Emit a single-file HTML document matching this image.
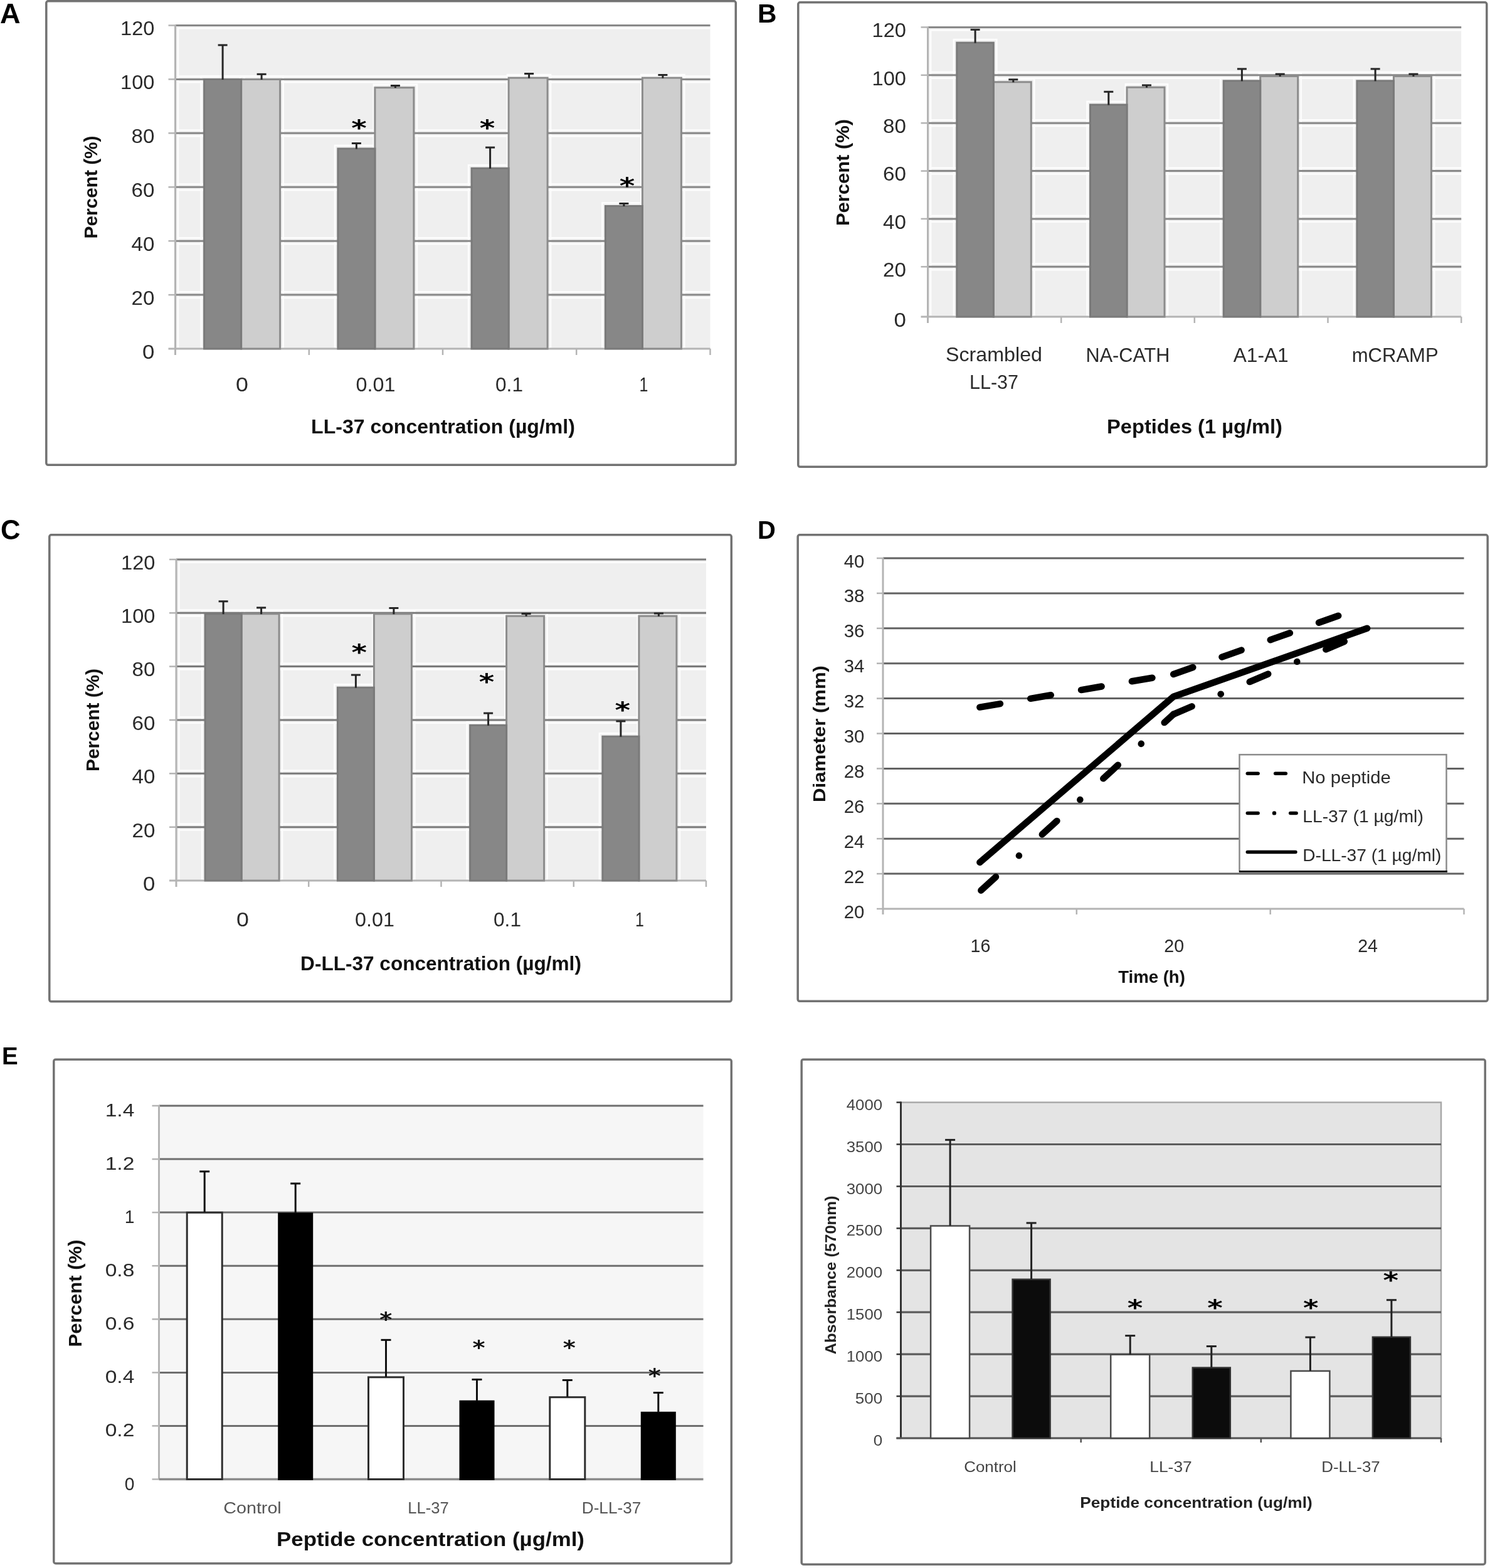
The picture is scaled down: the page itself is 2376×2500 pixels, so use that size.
<!DOCTYPE html>
<html><head><meta charset="utf-8"><title>Figure</title>
<style>
html,body{margin:0;padding:0;background:#fff;}
body{width:2376px;height:2500px;overflow:hidden;}
svg{display:block;font-family:"Liberation Sans", Arial, sans-serif;}
</style></head>
<body>
<svg width="2376" height="2500" viewBox="0 0 2376 2500">
<rect x="0" y="0" width="2376" height="2500" fill="#fff"/>
<rect x="73.8" y="1.8" width="1099.5" height="739.5" fill="none" stroke="#727272" stroke-width="3.5" rx="3"/>
<rect x="279.5" y="40.5" width="853.0" height="515.5" fill="#efefef"/>
<line x1="283.5" y1="465.3" x2="1132.5" y2="465.3" stroke="#fdfdfd" stroke-width="2.6"/>
<line x1="283.5" y1="474.9" x2="1132.5" y2="474.9" stroke="#fdfdfd" stroke-width="2.6"/>
<line x1="283.5" y1="379.4" x2="1132.5" y2="379.4" stroke="#fdfdfd" stroke-width="2.6"/>
<line x1="283.5" y1="389.0" x2="1132.5" y2="389.0" stroke="#fdfdfd" stroke-width="2.6"/>
<line x1="283.5" y1="293.5" x2="1132.5" y2="293.5" stroke="#fdfdfd" stroke-width="2.6"/>
<line x1="283.5" y1="303.1" x2="1132.5" y2="303.1" stroke="#fdfdfd" stroke-width="2.6"/>
<line x1="283.5" y1="207.5" x2="1132.5" y2="207.5" stroke="#fdfdfd" stroke-width="2.6"/>
<line x1="283.5" y1="217.1" x2="1132.5" y2="217.1" stroke="#fdfdfd" stroke-width="2.6"/>
<line x1="283.5" y1="121.6" x2="1132.5" y2="121.6" stroke="#fdfdfd" stroke-width="2.6"/>
<line x1="283.5" y1="131.2" x2="1132.5" y2="131.2" stroke="#fdfdfd" stroke-width="2.6"/>
<line x1="283.5" y1="45.3" x2="1132.5" y2="45.3" stroke="#fdfdfd" stroke-width="2.6"/>
<line x1="284.0" y1="44.5" x2="284.0" y2="554.0" stroke="#fdfdfd" stroke-width="2.6"/>
<rect x="320.6" y="121.5" width="69.0" height="433.0" fill="none" stroke="#fdfdfd" stroke-width="2.6"/>
<rect x="382.6" y="121.5" width="69.0" height="433.0" fill="none" stroke="#fdfdfd" stroke-width="2.6"/>
<rect x="533.9" y="232.0" width="69.0" height="322.5" fill="none" stroke="#fdfdfd" stroke-width="2.6"/>
<rect x="595.9" y="134.7" width="69.0" height="419.8" fill="none" stroke="#fdfdfd" stroke-width="2.6"/>
<rect x="747.1" y="263.3" width="69.0" height="291.2" fill="none" stroke="#fdfdfd" stroke-width="2.6"/>
<rect x="809.1" y="119.1" width="69.0" height="435.4" fill="none" stroke="#fdfdfd" stroke-width="2.6"/>
<rect x="960.4" y="323.5" width="69.0" height="231.0" fill="none" stroke="#fdfdfd" stroke-width="2.6"/>
<rect x="1022.4" y="119.1" width="69.0" height="435.4" fill="none" stroke="#fdfdfd" stroke-width="2.6"/>
<line x1="279.5" y1="470.1" x2="1132.5" y2="470.1" stroke="#888888" stroke-width="3"/>
<line x1="268.5" y1="470.1" x2="279.5" y2="470.1" stroke="#b4b4b4" stroke-width="2.5"/>
<line x1="279.5" y1="384.2" x2="1132.5" y2="384.2" stroke="#888888" stroke-width="3"/>
<line x1="268.5" y1="384.2" x2="279.5" y2="384.2" stroke="#b4b4b4" stroke-width="2.5"/>
<line x1="279.5" y1="298.3" x2="1132.5" y2="298.3" stroke="#888888" stroke-width="3"/>
<line x1="268.5" y1="298.3" x2="279.5" y2="298.3" stroke="#b4b4b4" stroke-width="2.5"/>
<line x1="279.5" y1="212.3" x2="1132.5" y2="212.3" stroke="#888888" stroke-width="3"/>
<line x1="268.5" y1="212.3" x2="279.5" y2="212.3" stroke="#b4b4b4" stroke-width="2.5"/>
<line x1="279.5" y1="126.4" x2="1132.5" y2="126.4" stroke="#888888" stroke-width="3"/>
<line x1="268.5" y1="126.4" x2="279.5" y2="126.4" stroke="#b4b4b4" stroke-width="2.5"/>
<line x1="279.5" y1="40.5" x2="1132.5" y2="40.5" stroke="#888888" stroke-width="3"/>
<line x1="268.5" y1="40.5" x2="279.5" y2="40.5" stroke="#b4b4b4" stroke-width="2.5"/>
<line x1="279.5" y1="39.5" x2="279.5" y2="566.0" stroke="#b4b4b4" stroke-width="3"/>
<line x1="268.5" y1="556.0" x2="1132.5" y2="556.0" stroke="#b4b4b4" stroke-width="3"/>
<line x1="492.8" y1="556.0" x2="492.8" y2="566.0" stroke="#b4b4b4" stroke-width="2.5"/>
<line x1="706.0" y1="556.0" x2="706.0" y2="566.0" stroke="#b4b4b4" stroke-width="2.5"/>
<line x1="919.2" y1="556.0" x2="919.2" y2="566.0" stroke="#b4b4b4" stroke-width="2.5"/>
<line x1="1132.5" y1="556.0" x2="1132.5" y2="566.0" stroke="#b4b4b4" stroke-width="2.5"/>
<rect x="384.6" y="126.5" width="62.0" height="429.5" fill="#cecece" stroke="#8c8c8c" stroke-width="3"/>
<rect x="325.6" y="126.5" width="59.0" height="429.5" fill="#878787" stroke="#7a7a7a" stroke-width="3"/>
<rect x="597.9" y="139.7" width="62.0" height="416.3" fill="#cecece" stroke="#8c8c8c" stroke-width="3"/>
<rect x="538.9" y="237.0" width="59.0" height="319.0" fill="#878787" stroke="#7a7a7a" stroke-width="3"/>
<rect x="811.1" y="124.1" width="62.0" height="431.9" fill="#cecece" stroke="#8c8c8c" stroke-width="3"/>
<rect x="752.1" y="268.3" width="59.0" height="287.7" fill="#878787" stroke="#7a7a7a" stroke-width="3"/>
<rect x="1024.4" y="124.1" width="62.0" height="431.9" fill="#cecece" stroke="#8c8c8c" stroke-width="3"/>
<rect x="965.4" y="328.5" width="59.0" height="227.5" fill="#878787" stroke="#7a7a7a" stroke-width="3"/>
<line x1="355.1" y1="127.0" x2="355.1" y2="71.9" stroke="#262626" stroke-width="3"/>
<line x1="347.6" y1="71.9" x2="362.6" y2="71.9" stroke="#262626" stroke-width="3"/>
<line x1="417.1" y1="127.0" x2="417.1" y2="118.3" stroke="#262626" stroke-width="3"/>
<line x1="409.6" y1="118.3" x2="424.6" y2="118.3" stroke="#262626" stroke-width="3"/>
<line x1="568.4" y1="237.5" x2="568.4" y2="228.5" stroke="#262626" stroke-width="3"/>
<line x1="560.9" y1="228.5" x2="575.9" y2="228.5" stroke="#262626" stroke-width="3"/>
<line x1="630.4" y1="140.2" x2="630.4" y2="136.5" stroke="#262626" stroke-width="3"/>
<line x1="622.9" y1="136.5" x2="637.9" y2="136.5" stroke="#262626" stroke-width="3"/>
<line x1="781.6" y1="268.8" x2="781.6" y2="235.1" stroke="#262626" stroke-width="3"/>
<line x1="774.1" y1="235.1" x2="789.1" y2="235.1" stroke="#262626" stroke-width="3"/>
<line x1="843.6" y1="124.6" x2="843.6" y2="117.5" stroke="#262626" stroke-width="3"/>
<line x1="836.1" y1="117.5" x2="851.1" y2="117.5" stroke="#262626" stroke-width="3"/>
<line x1="994.9" y1="329.0" x2="994.9" y2="324.5" stroke="#262626" stroke-width="3"/>
<line x1="987.4" y1="324.5" x2="1002.4" y2="324.5" stroke="#262626" stroke-width="3"/>
<line x1="1056.9" y1="124.6" x2="1056.9" y2="119.5" stroke="#262626" stroke-width="3"/>
<line x1="1049.4" y1="119.5" x2="1064.4" y2="119.5" stroke="#262626" stroke-width="3"/>
<text transform="translate(572.5,215.6) scale(1.3,1)" font-family="'DejaVu Sans', 'Liberation Sans', sans-serif" font-size="36.0" font-weight="bold" fill="#000" text-anchor="middle">*</text>
<text transform="translate(777.0,215.6) scale(1.3,1)" font-family="'DejaVu Sans', 'Liberation Sans', sans-serif" font-size="36.0" font-weight="bold" fill="#000" text-anchor="middle">*</text>
<text transform="translate(1000.0,308.1) scale(1.3,1)" font-family="'DejaVu Sans', 'Liberation Sans', sans-serif" font-size="36.0" font-weight="bold" fill="#000" text-anchor="middle">*</text>
<text x="236.8" y="571.8" font-size="31.4" fill="#2a2a2a" text-anchor="middle" textLength="19.4" lengthAdjust="spacingAndGlyphs">0</text>
<text x="228.0" y="485.9" font-size="31.4" fill="#2a2a2a" text-anchor="middle" textLength="36.9" lengthAdjust="spacingAndGlyphs">20</text>
<text x="228.0" y="400.0" font-size="31.4" fill="#2a2a2a" text-anchor="middle" textLength="36.9" lengthAdjust="spacingAndGlyphs">40</text>
<text x="228.0" y="314.1" font-size="31.4" fill="#2a2a2a" text-anchor="middle" textLength="36.9" lengthAdjust="spacingAndGlyphs">60</text>
<text x="228.0" y="228.1" font-size="31.4" fill="#2a2a2a" text-anchor="middle" textLength="36.9" lengthAdjust="spacingAndGlyphs">80</text>
<text x="219.2" y="142.2" font-size="31.4" fill="#2a2a2a" text-anchor="middle" textLength="54.4" lengthAdjust="spacingAndGlyphs">100</text>
<text x="219.2" y="56.3" font-size="31.4" fill="#2a2a2a" text-anchor="middle" textLength="54.4" lengthAdjust="spacingAndGlyphs">120</text>
<text x="386.0" y="623.5" font-size="32.0" fill="#2a2a2a" text-anchor="middle" textLength="19.9" lengthAdjust="spacingAndGlyphs">0</text>
<text x="599.0" y="623.5" font-size="32.0" fill="#2a2a2a" text-anchor="middle" textLength="62.9" lengthAdjust="spacingAndGlyphs">0.01</text>
<text x="812.0" y="623.5" font-size="32.0" fill="#2a2a2a" text-anchor="middle" textLength="43.9" lengthAdjust="spacingAndGlyphs">0.1</text>
<text x="1026.5" y="623.5" font-size="32.0" fill="#2a2a2a" text-anchor="middle" textLength="13.9" lengthAdjust="spacingAndGlyphs">1</text>
<text x="706.5" y="690.5" font-size="30.5" font-weight="bold" fill="#111" text-anchor="middle" textLength="420.8" lengthAdjust="spacingAndGlyphs">LL-37 concentration (µg/ml)</text>
<text transform="translate(155.0,298.5) rotate(-90)" x="0" y="0" font-size="29.0" font-weight="bold" fill="#111" text-anchor="middle" textLength="164.0" lengthAdjust="spacingAndGlyphs">Percent (%)</text>
<rect x="1272.8" y="3.8" width="1098.0" height="740.5" fill="none" stroke="#727272" stroke-width="3.5" rx="3"/>
<rect x="1479.5" y="43.4" width="850.7" height="461.6" fill="#efefef"/>
<line x1="1483.5" y1="420.5" x2="2330.2" y2="420.5" stroke="#fdfdfd" stroke-width="2.6"/>
<line x1="1483.5" y1="430.1" x2="2330.2" y2="430.1" stroke="#fdfdfd" stroke-width="2.6"/>
<line x1="1483.5" y1="344.1" x2="2330.2" y2="344.1" stroke="#fdfdfd" stroke-width="2.6"/>
<line x1="1483.5" y1="353.7" x2="2330.2" y2="353.7" stroke="#fdfdfd" stroke-width="2.6"/>
<line x1="1483.5" y1="267.8" x2="2330.2" y2="267.8" stroke="#fdfdfd" stroke-width="2.6"/>
<line x1="1483.5" y1="277.4" x2="2330.2" y2="277.4" stroke="#fdfdfd" stroke-width="2.6"/>
<line x1="1483.5" y1="191.4" x2="2330.2" y2="191.4" stroke="#fdfdfd" stroke-width="2.6"/>
<line x1="1483.5" y1="201.0" x2="2330.2" y2="201.0" stroke="#fdfdfd" stroke-width="2.6"/>
<line x1="1483.5" y1="115.0" x2="2330.2" y2="115.0" stroke="#fdfdfd" stroke-width="2.6"/>
<line x1="1483.5" y1="124.6" x2="2330.2" y2="124.6" stroke="#fdfdfd" stroke-width="2.6"/>
<line x1="1483.5" y1="48.2" x2="2330.2" y2="48.2" stroke="#fdfdfd" stroke-width="2.6"/>
<line x1="1484.0" y1="47.4" x2="1484.0" y2="503.0" stroke="#fdfdfd" stroke-width="2.6"/>
<rect x="1520.8" y="63.1" width="68.5" height="440.4" fill="none" stroke="#fdfdfd" stroke-width="2.6"/>
<rect x="1582.3" y="125.8" width="67.0" height="377.7" fill="none" stroke="#fdfdfd" stroke-width="2.6"/>
<rect x="1733.5" y="162.0" width="68.5" height="341.5" fill="none" stroke="#fdfdfd" stroke-width="2.6"/>
<rect x="1795.0" y="134.2" width="67.0" height="369.3" fill="none" stroke="#fdfdfd" stroke-width="2.6"/>
<rect x="1946.2" y="123.9" width="68.5" height="379.6" fill="none" stroke="#fdfdfd" stroke-width="2.6"/>
<rect x="2007.7" y="116.5" width="67.0" height="387.0" fill="none" stroke="#fdfdfd" stroke-width="2.6"/>
<rect x="2158.9" y="123.9" width="68.5" height="379.6" fill="none" stroke="#fdfdfd" stroke-width="2.6"/>
<rect x="2220.4" y="116.5" width="67.0" height="387.0" fill="none" stroke="#fdfdfd" stroke-width="2.6"/>
<line x1="1479.5" y1="425.3" x2="2330.2" y2="425.3" stroke="#888888" stroke-width="3"/>
<line x1="1468.5" y1="425.3" x2="1479.5" y2="425.3" stroke="#b4b4b4" stroke-width="2.5"/>
<line x1="1479.5" y1="348.9" x2="2330.2" y2="348.9" stroke="#888888" stroke-width="3"/>
<line x1="1468.5" y1="348.9" x2="1479.5" y2="348.9" stroke="#b4b4b4" stroke-width="2.5"/>
<line x1="1479.5" y1="272.6" x2="2330.2" y2="272.6" stroke="#888888" stroke-width="3"/>
<line x1="1468.5" y1="272.6" x2="1479.5" y2="272.6" stroke="#b4b4b4" stroke-width="2.5"/>
<line x1="1479.5" y1="196.2" x2="2330.2" y2="196.2" stroke="#888888" stroke-width="3"/>
<line x1="1468.5" y1="196.2" x2="1479.5" y2="196.2" stroke="#b4b4b4" stroke-width="2.5"/>
<line x1="1479.5" y1="119.8" x2="2330.2" y2="119.8" stroke="#888888" stroke-width="3"/>
<line x1="1468.5" y1="119.8" x2="1479.5" y2="119.8" stroke="#b4b4b4" stroke-width="2.5"/>
<line x1="1479.5" y1="43.4" x2="2330.2" y2="43.4" stroke="#888888" stroke-width="3"/>
<line x1="1468.5" y1="43.4" x2="1479.5" y2="43.4" stroke="#b4b4b4" stroke-width="2.5"/>
<line x1="1479.5" y1="42.4" x2="1479.5" y2="515.0" stroke="#b4b4b4" stroke-width="3"/>
<line x1="1468.5" y1="505.0" x2="2330.2" y2="505.0" stroke="#b4b4b4" stroke-width="3"/>
<line x1="1692.2" y1="505.0" x2="1692.2" y2="515.0" stroke="#b4b4b4" stroke-width="2.5"/>
<line x1="1904.8" y1="505.0" x2="1904.8" y2="515.0" stroke="#b4b4b4" stroke-width="2.5"/>
<line x1="2117.5" y1="505.0" x2="2117.5" y2="515.0" stroke="#b4b4b4" stroke-width="2.5"/>
<line x1="2330.2" y1="505.0" x2="2330.2" y2="515.0" stroke="#b4b4b4" stroke-width="2.5"/>
<rect x="1584.3" y="130.8" width="60.0" height="374.2" fill="#cecece" stroke="#8c8c8c" stroke-width="3"/>
<rect x="1525.8" y="68.1" width="58.5" height="436.9" fill="#878787" stroke="#7a7a7a" stroke-width="3"/>
<rect x="1797.0" y="139.2" width="60.0" height="365.8" fill="#cecece" stroke="#8c8c8c" stroke-width="3"/>
<rect x="1738.5" y="167.0" width="58.5" height="338.0" fill="#878787" stroke="#7a7a7a" stroke-width="3"/>
<rect x="2009.7" y="121.5" width="60.0" height="383.5" fill="#cecece" stroke="#8c8c8c" stroke-width="3"/>
<rect x="1951.2" y="128.9" width="58.5" height="376.1" fill="#878787" stroke="#7a7a7a" stroke-width="3"/>
<rect x="2222.4" y="121.5" width="60.0" height="383.5" fill="#cecece" stroke="#8c8c8c" stroke-width="3"/>
<rect x="2163.9" y="128.9" width="58.5" height="376.1" fill="#878787" stroke="#7a7a7a" stroke-width="3"/>
<line x1="1555.1" y1="68.6" x2="1555.1" y2="47.3" stroke="#262626" stroke-width="3"/>
<line x1="1547.6" y1="47.3" x2="1562.6" y2="47.3" stroke="#262626" stroke-width="3"/>
<line x1="1615.8" y1="131.3" x2="1615.8" y2="126.8" stroke="#262626" stroke-width="3"/>
<line x1="1608.3" y1="126.8" x2="1623.3" y2="126.8" stroke="#262626" stroke-width="3"/>
<line x1="1767.8" y1="167.5" x2="1767.8" y2="146.3" stroke="#262626" stroke-width="3"/>
<line x1="1760.3" y1="146.3" x2="1775.3" y2="146.3" stroke="#262626" stroke-width="3"/>
<line x1="1828.5" y1="139.7" x2="1828.5" y2="135.9" stroke="#262626" stroke-width="3"/>
<line x1="1821.0" y1="135.9" x2="1836.0" y2="135.9" stroke="#262626" stroke-width="3"/>
<line x1="1980.4" y1="129.4" x2="1980.4" y2="109.9" stroke="#262626" stroke-width="3"/>
<line x1="1972.9" y1="109.9" x2="1987.9" y2="109.9" stroke="#262626" stroke-width="3"/>
<line x1="2041.2" y1="122.0" x2="2041.2" y2="118.1" stroke="#262626" stroke-width="3"/>
<line x1="2033.7" y1="118.1" x2="2048.7" y2="118.1" stroke="#262626" stroke-width="3"/>
<line x1="2193.1" y1="129.4" x2="2193.1" y2="109.9" stroke="#262626" stroke-width="3"/>
<line x1="2185.6" y1="109.9" x2="2200.6" y2="109.9" stroke="#262626" stroke-width="3"/>
<line x1="2253.9" y1="122.0" x2="2253.9" y2="118.1" stroke="#262626" stroke-width="3"/>
<line x1="2246.4" y1="118.1" x2="2261.4" y2="118.1" stroke="#262626" stroke-width="3"/>
<text x="1435.2" y="520.8" font-size="31.4" fill="#2a2a2a" text-anchor="middle" textLength="19.4" lengthAdjust="spacingAndGlyphs">0</text>
<text x="1426.5" y="441.1" font-size="31.4" fill="#2a2a2a" text-anchor="middle" textLength="36.9" lengthAdjust="spacingAndGlyphs">20</text>
<text x="1426.5" y="364.7" font-size="31.4" fill="#2a2a2a" text-anchor="middle" textLength="36.9" lengthAdjust="spacingAndGlyphs">40</text>
<text x="1426.5" y="288.4" font-size="31.4" fill="#2a2a2a" text-anchor="middle" textLength="36.9" lengthAdjust="spacingAndGlyphs">60</text>
<text x="1426.5" y="212.0" font-size="31.4" fill="#2a2a2a" text-anchor="middle" textLength="36.9" lengthAdjust="spacingAndGlyphs">80</text>
<text x="1417.8" y="135.6" font-size="31.4" fill="#2a2a2a" text-anchor="middle" textLength="54.4" lengthAdjust="spacingAndGlyphs">100</text>
<text x="1417.8" y="59.2" font-size="31.4" fill="#2a2a2a" text-anchor="middle" textLength="54.4" lengthAdjust="spacingAndGlyphs">120</text>
<text x="1585.0" y="576.0" font-size="32.0" fill="#2a2a2a" text-anchor="middle" textLength="153.9" lengthAdjust="spacingAndGlyphs">Scrambled</text>
<text x="1585.0" y="620.0" font-size="32.0" fill="#2a2a2a" text-anchor="middle" textLength="77.9" lengthAdjust="spacingAndGlyphs">LL-37</text>
<text x="1798.5" y="576.5" font-size="31.3" fill="#2a2a2a" text-anchor="middle" textLength="133.9" lengthAdjust="spacingAndGlyphs">NA-CATH</text>
<text x="2010.7" y="576.5" font-size="31.3" fill="#2a2a2a" text-anchor="middle" textLength="87.9" lengthAdjust="spacingAndGlyphs">A1-A1</text>
<text x="2224.7" y="576.5" font-size="31.3" fill="#2a2a2a" text-anchor="middle" textLength="137.9" lengthAdjust="spacingAndGlyphs">mCRAMP</text>
<text x="1905.0" y="690.5" font-size="30.5" font-weight="bold" fill="#111" text-anchor="middle" textLength="279.8" lengthAdjust="spacingAndGlyphs">Peptides (1 µg/ml)</text>
<text transform="translate(1353.5,275.0) rotate(-90)" x="0" y="0" font-size="29.0" font-weight="bold" fill="#111" text-anchor="middle" textLength="170.0" lengthAdjust="spacingAndGlyphs">Percent (%)</text>
<rect x="78.8" y="852.8" width="1087.5" height="744.0" fill="none" stroke="#727272" stroke-width="3.5" rx="3"/>
<rect x="281.0" y="892.0" width="845.0" height="512.0" fill="#efefef"/>
<line x1="285.0" y1="1313.9" x2="1126.0" y2="1313.9" stroke="#fdfdfd" stroke-width="2.6"/>
<line x1="285.0" y1="1323.5" x2="1126.0" y2="1323.5" stroke="#fdfdfd" stroke-width="2.6"/>
<line x1="285.0" y1="1228.5" x2="1126.0" y2="1228.5" stroke="#fdfdfd" stroke-width="2.6"/>
<line x1="285.0" y1="1238.1" x2="1126.0" y2="1238.1" stroke="#fdfdfd" stroke-width="2.6"/>
<line x1="285.0" y1="1143.2" x2="1126.0" y2="1143.2" stroke="#fdfdfd" stroke-width="2.6"/>
<line x1="285.0" y1="1152.8" x2="1126.0" y2="1152.8" stroke="#fdfdfd" stroke-width="2.6"/>
<line x1="285.0" y1="1057.8" x2="1126.0" y2="1057.8" stroke="#fdfdfd" stroke-width="2.6"/>
<line x1="285.0" y1="1067.4" x2="1126.0" y2="1067.4" stroke="#fdfdfd" stroke-width="2.6"/>
<line x1="285.0" y1="972.5" x2="1126.0" y2="972.5" stroke="#fdfdfd" stroke-width="2.6"/>
<line x1="285.0" y1="982.1" x2="1126.0" y2="982.1" stroke="#fdfdfd" stroke-width="2.6"/>
<line x1="285.0" y1="896.8" x2="1126.0" y2="896.8" stroke="#fdfdfd" stroke-width="2.6"/>
<line x1="285.5" y1="896.0" x2="285.5" y2="1402.0" stroke="#fdfdfd" stroke-width="2.6"/>
<rect x="322.1" y="973.7" width="68.0" height="428.8" fill="none" stroke="#fdfdfd" stroke-width="2.6"/>
<rect x="383.1" y="973.7" width="67.0" height="428.8" fill="none" stroke="#fdfdfd" stroke-width="2.6"/>
<rect x="533.4" y="1091.2" width="68.0" height="311.3" fill="none" stroke="#fdfdfd" stroke-width="2.6"/>
<rect x="594.4" y="973.8" width="67.0" height="428.7" fill="none" stroke="#fdfdfd" stroke-width="2.6"/>
<rect x="744.6" y="1151.3" width="68.0" height="251.2" fill="none" stroke="#fdfdfd" stroke-width="2.6"/>
<rect x="805.6" y="977.2" width="67.0" height="425.3" fill="none" stroke="#fdfdfd" stroke-width="2.6"/>
<rect x="955.9" y="1169.2" width="68.0" height="233.3" fill="none" stroke="#fdfdfd" stroke-width="2.6"/>
<rect x="1016.9" y="977.2" width="67.0" height="425.3" fill="none" stroke="#fdfdfd" stroke-width="2.6"/>
<line x1="281.0" y1="1318.7" x2="1126.0" y2="1318.7" stroke="#7a7a7a" stroke-width="3"/>
<line x1="270.0" y1="1318.7" x2="281.0" y2="1318.7" stroke="#b4b4b4" stroke-width="2.5"/>
<line x1="281.0" y1="1233.3" x2="1126.0" y2="1233.3" stroke="#7a7a7a" stroke-width="3"/>
<line x1="270.0" y1="1233.3" x2="281.0" y2="1233.3" stroke="#b4b4b4" stroke-width="2.5"/>
<line x1="281.0" y1="1148.0" x2="1126.0" y2="1148.0" stroke="#7a7a7a" stroke-width="3"/>
<line x1="270.0" y1="1148.0" x2="281.0" y2="1148.0" stroke="#b4b4b4" stroke-width="2.5"/>
<line x1="281.0" y1="1062.6" x2="1126.0" y2="1062.6" stroke="#7a7a7a" stroke-width="3"/>
<line x1="270.0" y1="1062.6" x2="281.0" y2="1062.6" stroke="#b4b4b4" stroke-width="2.5"/>
<line x1="281.0" y1="977.3" x2="1126.0" y2="977.3" stroke="#7a7a7a" stroke-width="3"/>
<line x1="270.0" y1="977.3" x2="281.0" y2="977.3" stroke="#b4b4b4" stroke-width="2.5"/>
<line x1="281.0" y1="892.0" x2="1126.0" y2="892.0" stroke="#7a7a7a" stroke-width="3"/>
<line x1="270.0" y1="892.0" x2="281.0" y2="892.0" stroke="#b4b4b4" stroke-width="2.5"/>
<line x1="281.0" y1="891.0" x2="281.0" y2="1414.0" stroke="#b4b4b4" stroke-width="3"/>
<line x1="270.0" y1="1404.0" x2="1126.0" y2="1404.0" stroke="#b4b4b4" stroke-width="3"/>
<line x1="492.2" y1="1404.0" x2="492.2" y2="1414.0" stroke="#b4b4b4" stroke-width="2.5"/>
<line x1="703.5" y1="1404.0" x2="703.5" y2="1414.0" stroke="#b4b4b4" stroke-width="2.5"/>
<line x1="914.8" y1="1404.0" x2="914.8" y2="1414.0" stroke="#b4b4b4" stroke-width="2.5"/>
<line x1="1126.0" y1="1404.0" x2="1126.0" y2="1414.0" stroke="#b4b4b4" stroke-width="2.5"/>
<rect x="385.1" y="978.7" width="60.0" height="425.3" fill="#cecece" stroke="#8c8c8c" stroke-width="3"/>
<rect x="327.1" y="978.7" width="58.0" height="425.3" fill="#878787" stroke="#7a7a7a" stroke-width="3"/>
<rect x="596.4" y="978.8" width="60.0" height="425.2" fill="#cecece" stroke="#8c8c8c" stroke-width="3"/>
<rect x="538.4" y="1096.2" width="58.0" height="307.8" fill="#878787" stroke="#7a7a7a" stroke-width="3"/>
<rect x="807.6" y="982.2" width="60.0" height="421.8" fill="#cecece" stroke="#8c8c8c" stroke-width="3"/>
<rect x="749.6" y="1156.3" width="58.0" height="247.7" fill="#878787" stroke="#7a7a7a" stroke-width="3"/>
<rect x="1018.9" y="982.2" width="60.0" height="421.8" fill="#cecece" stroke="#8c8c8c" stroke-width="3"/>
<rect x="960.9" y="1174.2" width="58.0" height="229.8" fill="#878787" stroke="#7a7a7a" stroke-width="3"/>
<line x1="356.1" y1="979.2" x2="356.1" y2="958.8" stroke="#262626" stroke-width="3"/>
<line x1="348.6" y1="958.8" x2="363.6" y2="958.8" stroke="#262626" stroke-width="3"/>
<line x1="416.6" y1="979.2" x2="416.6" y2="968.9" stroke="#262626" stroke-width="3"/>
<line x1="409.1" y1="968.9" x2="424.1" y2="968.9" stroke="#262626" stroke-width="3"/>
<line x1="567.4" y1="1096.7" x2="567.4" y2="1076.1" stroke="#262626" stroke-width="3"/>
<line x1="559.9" y1="1076.1" x2="574.9" y2="1076.1" stroke="#262626" stroke-width="3"/>
<line x1="627.9" y1="979.3" x2="627.9" y2="969.5" stroke="#262626" stroke-width="3"/>
<line x1="620.4" y1="969.5" x2="635.4" y2="969.5" stroke="#262626" stroke-width="3"/>
<line x1="778.6" y1="1156.8" x2="778.6" y2="1137.1" stroke="#262626" stroke-width="3"/>
<line x1="771.1" y1="1137.1" x2="786.1" y2="1137.1" stroke="#262626" stroke-width="3"/>
<line x1="839.1" y1="982.7" x2="839.1" y2="978.5" stroke="#262626" stroke-width="3"/>
<line x1="831.6" y1="978.5" x2="846.6" y2="978.5" stroke="#262626" stroke-width="3"/>
<line x1="989.9" y1="1174.7" x2="989.9" y2="1149.9" stroke="#262626" stroke-width="3"/>
<line x1="982.4" y1="1149.9" x2="997.4" y2="1149.9" stroke="#262626" stroke-width="3"/>
<line x1="1050.4" y1="982.7" x2="1050.4" y2="978.0" stroke="#262626" stroke-width="3"/>
<line x1="1042.9" y1="978.0" x2="1057.9" y2="978.0" stroke="#262626" stroke-width="3"/>
<text transform="translate(572.7,1052.1) scale(1.3,1)" font-family="'DejaVu Sans', 'Liberation Sans', sans-serif" font-size="36.0" font-weight="bold" fill="#000" text-anchor="middle">*</text>
<text transform="translate(776.0,1099.1) scale(1.3,1)" font-family="'DejaVu Sans', 'Liberation Sans', sans-serif" font-size="36.0" font-weight="bold" fill="#000" text-anchor="middle">*</text>
<text transform="translate(992.7,1143.8) scale(1.3,1)" font-family="'DejaVu Sans', 'Liberation Sans', sans-serif" font-size="36.0" font-weight="bold" fill="#000" text-anchor="middle">*</text>
<text x="237.8" y="1419.8" font-size="31.4" fill="#2a2a2a" text-anchor="middle" textLength="19.4" lengthAdjust="spacingAndGlyphs">0</text>
<text x="229.0" y="1334.5" font-size="31.4" fill="#2a2a2a" text-anchor="middle" textLength="36.9" lengthAdjust="spacingAndGlyphs">20</text>
<text x="229.0" y="1249.1" font-size="31.4" fill="#2a2a2a" text-anchor="middle" textLength="36.9" lengthAdjust="spacingAndGlyphs">40</text>
<text x="229.0" y="1163.8" font-size="31.4" fill="#2a2a2a" text-anchor="middle" textLength="36.9" lengthAdjust="spacingAndGlyphs">60</text>
<text x="229.0" y="1078.4" font-size="31.4" fill="#2a2a2a" text-anchor="middle" textLength="36.9" lengthAdjust="spacingAndGlyphs">80</text>
<text x="220.2" y="993.1" font-size="31.4" fill="#2a2a2a" text-anchor="middle" textLength="54.4" lengthAdjust="spacingAndGlyphs">100</text>
<text x="220.2" y="907.8" font-size="31.4" fill="#2a2a2a" text-anchor="middle" textLength="54.4" lengthAdjust="spacingAndGlyphs">120</text>
<text x="387.0" y="1476.5" font-size="32.0" fill="#2a2a2a" text-anchor="middle" textLength="19.9" lengthAdjust="spacingAndGlyphs">0</text>
<text x="597.5" y="1476.5" font-size="32.0" fill="#2a2a2a" text-anchor="middle" textLength="62.9" lengthAdjust="spacingAndGlyphs">0.01</text>
<text x="809.0" y="1476.5" font-size="32.0" fill="#2a2a2a" text-anchor="middle" textLength="43.9" lengthAdjust="spacingAndGlyphs">0.1</text>
<text x="1020.0" y="1476.5" font-size="32.0" fill="#2a2a2a" text-anchor="middle" textLength="13.9" lengthAdjust="spacingAndGlyphs">1</text>
<text x="703.0" y="1546.5" font-size="30.5" font-weight="bold" fill="#111" text-anchor="middle" textLength="447.8" lengthAdjust="spacingAndGlyphs">D-LL-37 concentration (µg/ml)</text>
<text transform="translate(157.5,1148.0) rotate(-90)" x="0" y="0" font-size="29.0" font-weight="bold" fill="#111" text-anchor="middle" textLength="164.0" lengthAdjust="spacingAndGlyphs">Percent (%)</text>
<rect x="1272.2" y="852.8" width="1100.0" height="743.5" fill="none" stroke="#727272" stroke-width="3.5" rx="3"/>
<line x1="1408.0" y1="1393.1" x2="2334.5" y2="1393.1" stroke="#626262" stroke-width="3"/>
<line x1="1408.0" y1="1337.2" x2="2334.5" y2="1337.2" stroke="#626262" stroke-width="3"/>
<line x1="1408.0" y1="1281.3" x2="2334.5" y2="1281.3" stroke="#626262" stroke-width="3"/>
<line x1="1408.0" y1="1225.4" x2="2334.5" y2="1225.4" stroke="#626262" stroke-width="3"/>
<line x1="1408.0" y1="1169.5" x2="2334.5" y2="1169.5" stroke="#626262" stroke-width="3"/>
<line x1="1408.0" y1="1113.6" x2="2334.5" y2="1113.6" stroke="#626262" stroke-width="3"/>
<line x1="1408.0" y1="1057.7" x2="2334.5" y2="1057.7" stroke="#626262" stroke-width="3"/>
<line x1="1408.0" y1="1001.8" x2="2334.5" y2="1001.8" stroke="#626262" stroke-width="3"/>
<line x1="1408.0" y1="945.9" x2="2334.5" y2="945.9" stroke="#626262" stroke-width="3"/>
<line x1="1408.0" y1="890.0" x2="2334.5" y2="890.0" stroke="#626262" stroke-width="3"/>
<line x1="1398.0" y1="1449.0" x2="1408.0" y2="1449.0" stroke="#b4b4b4" stroke-width="2.5"/>
<line x1="1398.0" y1="1393.1" x2="1408.0" y2="1393.1" stroke="#b4b4b4" stroke-width="2.5"/>
<line x1="1398.0" y1="1337.2" x2="1408.0" y2="1337.2" stroke="#b4b4b4" stroke-width="2.5"/>
<line x1="1398.0" y1="1281.3" x2="1408.0" y2="1281.3" stroke="#b4b4b4" stroke-width="2.5"/>
<line x1="1398.0" y1="1225.4" x2="1408.0" y2="1225.4" stroke="#b4b4b4" stroke-width="2.5"/>
<line x1="1398.0" y1="1169.5" x2="1408.0" y2="1169.5" stroke="#b4b4b4" stroke-width="2.5"/>
<line x1="1398.0" y1="1113.6" x2="1408.0" y2="1113.6" stroke="#b4b4b4" stroke-width="2.5"/>
<line x1="1398.0" y1="1057.7" x2="1408.0" y2="1057.7" stroke="#b4b4b4" stroke-width="2.5"/>
<line x1="1398.0" y1="1001.8" x2="1408.0" y2="1001.8" stroke="#b4b4b4" stroke-width="2.5"/>
<line x1="1398.0" y1="945.9" x2="1408.0" y2="945.9" stroke="#b4b4b4" stroke-width="2.5"/>
<line x1="1398.0" y1="890.0" x2="1408.0" y2="890.0" stroke="#b4b4b4" stroke-width="2.5"/>
<line x1="1408.0" y1="889.0" x2="1408.0" y2="1458.0" stroke="#b4b4b4" stroke-width="3"/>
<line x1="1408.0" y1="1449.0" x2="2334.5" y2="1449.0" stroke="#b4b4b4" stroke-width="3"/>
<line x1="1716.8" y1="1449.0" x2="1716.8" y2="1458.0" stroke="#b4b4b4" stroke-width="2.5"/>
<line x1="2025.7" y1="1449.0" x2="2025.7" y2="1458.0" stroke="#b4b4b4" stroke-width="2.5"/>
<line x1="2334.5" y1="1449.0" x2="2334.5" y2="1458.0" stroke="#b4b4b4" stroke-width="2.5"/>
<line x1="1562.4" y1="1127.6" x2="1871.2" y2="1075.0" fill="none" stroke="#000" stroke-width="10.5" stroke-linecap="round" stroke-dasharray="33 49"/>
<line x1="1871.2" y1="1075.0" x2="2180.1" y2="965.5" fill="none" stroke="#000" stroke-width="10.5" stroke-linecap="round" stroke-dasharray="33 49"/>
<line x1="1564.4" y1="1419.7" x2="1871.2" y2="1138.8" fill="none" stroke="#000" stroke-width="10.5" stroke-linecap="round" stroke-dasharray="32 50 0.1 50"/>
<line x1="1871.2" y1="1138.8" x2="2180.1" y2="1007.4" fill="none" stroke="#000" stroke-width="10.5" stroke-linecap="round" stroke-dasharray="32 50 0.1 50"/>
<polyline points="1562.4,1374.9 1871.2,1110.8 2180.1,1001.8" fill="none" stroke="#000" stroke-width="10.5" stroke-linejoin="round" stroke-linecap="round"/>
<rect x="1976.5" y="1203.2" width="330.0" height="186.0" fill="#fff" stroke="#8c8c8c" stroke-width="2.5"/>
<line x1="1976.0" y1="1389.5" x2="2308.0" y2="1389.5" stroke="#111" stroke-width="3"/>
<line x1="1989.3" y1="1233.2" x2="2006.1" y2="1233.2" stroke="#000" stroke-width="5.5" stroke-linecap="round"/>
<line x1="2033.7" y1="1233.2" x2="2050.3" y2="1233.2" stroke="#000" stroke-width="5.5" stroke-linecap="round"/>
<line x1="1989.3" y1="1296.4" x2="2006.1" y2="1296.4" stroke="#000" stroke-width="5.5" stroke-linecap="round"/>
<circle cx="2032" cy="1296.4" r="3.2" fill="#000"/>
<line x1="2057.7" y1="1296.4" x2="2067.1" y2="1296.4" stroke="#000" stroke-width="5.5" stroke-linecap="round"/>
<line x1="1989.3" y1="1358.5" x2="2065.9" y2="1358.5" stroke="#000" stroke-width="5.5" stroke-linecap="round"/>
<text x="2147.0" y="1248.5" font-size="28.3" fill="#2a2a2a" text-anchor="middle" textLength="141.7" lengthAdjust="spacingAndGlyphs">No peptide</text>
<text x="2173.5" y="1310.5" font-size="28.3" fill="#2a2a2a" text-anchor="middle" textLength="192.7" lengthAdjust="spacingAndGlyphs">LL-37 (1 µg/ml)</text>
<text x="2187.8" y="1372.5" font-size="28.3" fill="#2a2a2a" text-anchor="middle" textLength="221.2" lengthAdjust="spacingAndGlyphs">D-LL-37 (1 µg/ml)</text>
<text x="1362.0" y="1463.5" font-size="29.1" fill="#2a2a2a" text-anchor="middle" textLength="32.7" lengthAdjust="spacingAndGlyphs">20</text>
<text x="1362.0" y="1407.6" font-size="29.1" fill="#2a2a2a" text-anchor="middle" textLength="32.7" lengthAdjust="spacingAndGlyphs">22</text>
<text x="1362.0" y="1351.7" font-size="29.1" fill="#2a2a2a" text-anchor="middle" textLength="32.7" lengthAdjust="spacingAndGlyphs">24</text>
<text x="1362.0" y="1295.8" font-size="29.1" fill="#2a2a2a" text-anchor="middle" textLength="32.7" lengthAdjust="spacingAndGlyphs">26</text>
<text x="1362.0" y="1239.9" font-size="29.1" fill="#2a2a2a" text-anchor="middle" textLength="32.7" lengthAdjust="spacingAndGlyphs">28</text>
<text x="1362.0" y="1184.0" font-size="29.1" fill="#2a2a2a" text-anchor="middle" textLength="32.7" lengthAdjust="spacingAndGlyphs">30</text>
<text x="1362.0" y="1128.1" font-size="29.1" fill="#2a2a2a" text-anchor="middle" textLength="32.7" lengthAdjust="spacingAndGlyphs">32</text>
<text x="1362.0" y="1072.2" font-size="29.1" fill="#2a2a2a" text-anchor="middle" textLength="32.7" lengthAdjust="spacingAndGlyphs">34</text>
<text x="1362.0" y="1016.3" font-size="29.1" fill="#2a2a2a" text-anchor="middle" textLength="32.7" lengthAdjust="spacingAndGlyphs">36</text>
<text x="1362.0" y="960.4" font-size="29.1" fill="#2a2a2a" text-anchor="middle" textLength="32.7" lengthAdjust="spacingAndGlyphs">38</text>
<text x="1362.0" y="904.5" font-size="29.1" fill="#2a2a2a" text-anchor="middle" textLength="32.7" lengthAdjust="spacingAndGlyphs">40</text>
<text x="1563.4" y="1517.5" font-size="29.8" fill="#2a2a2a" text-anchor="middle" textLength="31.8" lengthAdjust="spacingAndGlyphs">16</text>
<text x="1872.2" y="1517.5" font-size="29.8" fill="#2a2a2a" text-anchor="middle" textLength="31.8" lengthAdjust="spacingAndGlyphs">20</text>
<text x="2181.1" y="1517.5" font-size="29.8" fill="#2a2a2a" text-anchor="middle" textLength="31.8" lengthAdjust="spacingAndGlyphs">24</text>
<text x="1836.5" y="1566.5" font-size="27.6" font-weight="bold" fill="#111" text-anchor="middle" textLength="106.7" lengthAdjust="spacingAndGlyphs">Time (h)</text>
<text transform="translate(1315.8,1170.0) rotate(-90)" x="0" y="0" font-size="27.0" font-weight="bold" fill="#111" text-anchor="middle" textLength="218.0" lengthAdjust="spacingAndGlyphs">Diameter (mm)</text>
<text x="1208.0" y="859.0" font-size="40.0" font-weight="bold" fill="#000">D</text>
<rect x="85.8" y="1689.2" width="1080.5" height="803.5" fill="none" stroke="#727272" stroke-width="3.5" rx="3"/>
<rect x="253.5" y="1763.0" width="868.0" height="595.5" fill="#f6f6f6"/>
<line x1="253.5" y1="2273.4" x2="1121.5" y2="2273.4" stroke="#6e6e6e" stroke-width="3"/>
<line x1="253.5" y1="2188.4" x2="1121.5" y2="2188.4" stroke="#6e6e6e" stroke-width="3"/>
<line x1="253.5" y1="2103.3" x2="1121.5" y2="2103.3" stroke="#6e6e6e" stroke-width="3"/>
<line x1="253.5" y1="2018.2" x2="1121.5" y2="2018.2" stroke="#6e6e6e" stroke-width="3"/>
<line x1="253.5" y1="1933.1" x2="1121.5" y2="1933.1" stroke="#6e6e6e" stroke-width="3"/>
<line x1="253.5" y1="1848.1" x2="1121.5" y2="1848.1" stroke="#6e6e6e" stroke-width="3"/>
<line x1="253.5" y1="1763.0" x2="1121.5" y2="1763.0" stroke="#6e6e6e" stroke-width="3"/>
<line x1="242.5" y1="2358.5" x2="253.5" y2="2358.5" stroke="#b4b4b4" stroke-width="2.5"/>
<line x1="242.5" y1="2273.4" x2="253.5" y2="2273.4" stroke="#b4b4b4" stroke-width="2.5"/>
<line x1="242.5" y1="2188.4" x2="253.5" y2="2188.4" stroke="#b4b4b4" stroke-width="2.5"/>
<line x1="242.5" y1="2103.3" x2="253.5" y2="2103.3" stroke="#b4b4b4" stroke-width="2.5"/>
<line x1="242.5" y1="2018.2" x2="253.5" y2="2018.2" stroke="#b4b4b4" stroke-width="2.5"/>
<line x1="242.5" y1="1933.1" x2="253.5" y2="1933.1" stroke="#b4b4b4" stroke-width="2.5"/>
<line x1="242.5" y1="1848.1" x2="253.5" y2="1848.1" stroke="#b4b4b4" stroke-width="2.5"/>
<line x1="242.5" y1="1763.0" x2="253.5" y2="1763.0" stroke="#b4b4b4" stroke-width="2.5"/>
<line x1="253.5" y1="1762.0" x2="253.5" y2="2358.5" stroke="#b4b4b4" stroke-width="3"/>
<line x1="253.5" y1="2358.5" x2="1121.5" y2="2358.5" stroke="#8a8a8a" stroke-width="3.5"/>
<rect x="298.2" y="1933.3" width="56.0" height="425.2" fill="#fff" stroke="#2e2e2e" stroke-width="3"/>
<rect x="444.7" y="1934.9" width="53.0" height="423.6" fill="#000" stroke="#000" stroke-width="3"/>
<line x1="326.2" y1="1932.8" x2="326.2" y2="1867.8" stroke="#111" stroke-width="3"/>
<line x1="318.2" y1="1867.8" x2="334.2" y2="1867.8" stroke="#111" stroke-width="3"/>
<line x1="471.2" y1="1934.4" x2="471.2" y2="1887.0" stroke="#111" stroke-width="3"/>
<line x1="463.2" y1="1887.0" x2="479.2" y2="1887.0" stroke="#111" stroke-width="3"/>
<rect x="587.5" y="2195.8" width="56.0" height="162.7" fill="#fff" stroke="#2e2e2e" stroke-width="3"/>
<rect x="734.0" y="2234.2" width="53.0" height="124.3" fill="#000" stroke="#000" stroke-width="3"/>
<line x1="615.5" y1="2195.3" x2="615.5" y2="2136.4" stroke="#111" stroke-width="3"/>
<line x1="607.5" y1="2136.4" x2="623.5" y2="2136.4" stroke="#111" stroke-width="3"/>
<line x1="760.5" y1="2233.7" x2="760.5" y2="2199.5" stroke="#111" stroke-width="3"/>
<line x1="752.5" y1="2199.5" x2="768.5" y2="2199.5" stroke="#111" stroke-width="3"/>
<rect x="876.8" y="2227.7" width="56.0" height="130.8" fill="#fff" stroke="#2e2e2e" stroke-width="3"/>
<rect x="1023.3" y="2252.3" width="53.0" height="106.2" fill="#000" stroke="#000" stroke-width="3"/>
<line x1="904.8" y1="2227.2" x2="904.8" y2="2200.5" stroke="#111" stroke-width="3"/>
<line x1="896.8" y1="2200.5" x2="912.8" y2="2200.5" stroke="#111" stroke-width="3"/>
<line x1="1049.8" y1="2251.8" x2="1049.8" y2="2220.5" stroke="#111" stroke-width="3"/>
<line x1="1041.8" y1="2220.5" x2="1057.8" y2="2220.5" stroke="#111" stroke-width="3"/>
<text transform="translate(615.3,2113.6) scale(1.2,1)" font-family="'DejaVu Sans', 'Liberation Sans', sans-serif" font-size="32.0" font-weight="bold" fill="#111" text-anchor="middle">*</text>
<text transform="translate(763.5,2158.9) scale(1.2,1)" font-family="'DejaVu Sans', 'Liberation Sans', sans-serif" font-size="32.0" font-weight="bold" fill="#111" text-anchor="middle">*</text>
<text transform="translate(907.7,2158.9) scale(1.2,1)" font-family="'DejaVu Sans', 'Liberation Sans', sans-serif" font-size="32.0" font-weight="bold" fill="#111" text-anchor="middle">*</text>
<text transform="translate(1043.7,2204.1) scale(1.2,1)" font-family="'DejaVu Sans', 'Liberation Sans', sans-serif" font-size="32.0" font-weight="bold" fill="#111" text-anchor="middle">*</text>
<text x="206.5" y="2375.5" font-size="29.1" fill="#2a2a2a" text-anchor="middle" textLength="15.7" lengthAdjust="spacingAndGlyphs">0</text>
<text x="191.0" y="2290.4" font-size="29.1" fill="#2a2a2a" text-anchor="middle" textLength="46.7" lengthAdjust="spacingAndGlyphs">0.2</text>
<text x="191.0" y="2205.4" font-size="29.1" fill="#2a2a2a" text-anchor="middle" textLength="46.7" lengthAdjust="spacingAndGlyphs">0.4</text>
<text x="191.0" y="2120.3" font-size="29.1" fill="#2a2a2a" text-anchor="middle" textLength="46.7" lengthAdjust="spacingAndGlyphs">0.6</text>
<text x="191.0" y="2035.2" font-size="29.1" fill="#2a2a2a" text-anchor="middle" textLength="46.7" lengthAdjust="spacingAndGlyphs">0.8</text>
<text x="206.5" y="1950.1" font-size="29.1" fill="#2a2a2a" text-anchor="middle" textLength="15.7" lengthAdjust="spacingAndGlyphs">1</text>
<text x="191.0" y="1865.1" font-size="29.1" fill="#2a2a2a" text-anchor="middle" textLength="46.7" lengthAdjust="spacingAndGlyphs">1.2</text>
<text x="191.0" y="1780.0" font-size="29.1" fill="#2a2a2a" text-anchor="middle" textLength="46.7" lengthAdjust="spacingAndGlyphs">1.4</text>
<text x="402.5" y="2412.5" font-size="25.4" fill="#555" text-anchor="middle" textLength="92.5" lengthAdjust="spacingAndGlyphs">Control</text>
<text x="683.0" y="2412.5" font-size="25.4" fill="#555" text-anchor="middle" textLength="65.5" lengthAdjust="spacingAndGlyphs">LL-37</text>
<text x="975.0" y="2412.5" font-size="25.4" fill="#555" text-anchor="middle" textLength="94.5" lengthAdjust="spacingAndGlyphs">D-LL-37</text>
<text x="686.5" y="2464.5" font-size="31.3" font-weight="bold" fill="#111" text-anchor="middle" textLength="490.9" lengthAdjust="spacingAndGlyphs">Peptide concentration (µg/ml)</text>
<text transform="translate(130.0,2062.0) rotate(-90)" x="0" y="0" font-size="29.0" font-weight="bold" fill="#111" text-anchor="middle" textLength="171.0" lengthAdjust="spacingAndGlyphs">Percent (%)</text>
<text x="3.0" y="1697.0" font-size="38.5" font-weight="bold" fill="#000">E</text>
<rect x="1278.2" y="1689.2" width="1090.0" height="805.0" fill="none" stroke="#727272" stroke-width="3.5" rx="3"/>
<rect x="1436.5" y="1757.6" width="861.5" height="535.4" fill="#e4e4e4" stroke="#a8a8a8" stroke-width="2.5"/>
<line x1="1436.5" y1="2226.1" x2="2298.0" y2="2226.1" stroke="#5c5c5c" stroke-width="3.2"/>
<line x1="1436.5" y1="2159.2" x2="2298.0" y2="2159.2" stroke="#5c5c5c" stroke-width="3.2"/>
<line x1="1436.5" y1="2092.2" x2="2298.0" y2="2092.2" stroke="#5c5c5c" stroke-width="3.2"/>
<line x1="1436.5" y1="2025.3" x2="2298.0" y2="2025.3" stroke="#5c5c5c" stroke-width="3.2"/>
<line x1="1436.5" y1="1958.4" x2="2298.0" y2="1958.4" stroke="#5c5c5c" stroke-width="3.2"/>
<line x1="1436.5" y1="1891.5" x2="2298.0" y2="1891.5" stroke="#5c5c5c" stroke-width="3.2"/>
<line x1="1436.5" y1="1824.5" x2="2298.0" y2="1824.5" stroke="#5c5c5c" stroke-width="3.2"/>
<line x1="1429.5" y1="2293.0" x2="1436.5" y2="2293.0" stroke="#333" stroke-width="2.5"/>
<line x1="1429.5" y1="2226.1" x2="1436.5" y2="2226.1" stroke="#333" stroke-width="2.5"/>
<line x1="1429.5" y1="2159.2" x2="1436.5" y2="2159.2" stroke="#333" stroke-width="2.5"/>
<line x1="1429.5" y1="2092.2" x2="1436.5" y2="2092.2" stroke="#333" stroke-width="2.5"/>
<line x1="1429.5" y1="2025.3" x2="1436.5" y2="2025.3" stroke="#333" stroke-width="2.5"/>
<line x1="1429.5" y1="1958.4" x2="1436.5" y2="1958.4" stroke="#333" stroke-width="2.5"/>
<line x1="1429.5" y1="1891.5" x2="1436.5" y2="1891.5" stroke="#333" stroke-width="2.5"/>
<line x1="1429.5" y1="1824.5" x2="1436.5" y2="1824.5" stroke="#333" stroke-width="2.5"/>
<line x1="1429.5" y1="1757.6" x2="1436.5" y2="1757.6" stroke="#333" stroke-width="2.5"/>
<line x1="1436.5" y1="1756.6" x2="1436.5" y2="2294.0" stroke="#333" stroke-width="3"/>
<line x1="1429.5" y1="2293.0" x2="2298.0" y2="2293.0" stroke="#555" stroke-width="3"/>
<line x1="1723.7" y1="2293.0" x2="1723.7" y2="2300.0" stroke="#555" stroke-width="2.5"/>
<line x1="2010.8" y1="2293.0" x2="2010.8" y2="2300.0" stroke="#555" stroke-width="2.5"/>
<line x1="2298.0" y1="2293.0" x2="2298.0" y2="2300.0" stroke="#555" stroke-width="2.5"/>
<rect x="1484.1" y="1954.5" width="62.0" height="338.5" fill="#fff" stroke="#4a4a4a" stroke-width="2.5"/>
<rect x="1614.6" y="2039.8" width="60.0" height="253.2" fill="#0c0c0c" stroke="#333" stroke-width="2.5"/>
<line x1="1515.1" y1="1954.2" x2="1515.1" y2="1817.4" stroke="#222" stroke-width="3"/>
<line x1="1507.1" y1="1817.4" x2="1523.1" y2="1817.4" stroke="#222" stroke-width="3"/>
<line x1="1644.6" y1="2039.5" x2="1644.6" y2="1949.9" stroke="#222" stroke-width="3"/>
<line x1="1636.6" y1="1949.9" x2="1652.6" y2="1949.9" stroke="#222" stroke-width="3"/>
<rect x="1771.2" y="2159.7" width="62.0" height="133.3" fill="#fff" stroke="#4a4a4a" stroke-width="2.5"/>
<rect x="1901.8" y="2180.6" width="60.0" height="112.4" fill="#0c0c0c" stroke="#333" stroke-width="2.5"/>
<line x1="1802.2" y1="2159.4" x2="1802.2" y2="2129.6" stroke="#222" stroke-width="3"/>
<line x1="1794.2" y1="2129.6" x2="1810.2" y2="2129.6" stroke="#222" stroke-width="3"/>
<line x1="1931.8" y1="2180.3" x2="1931.8" y2="2146.5" stroke="#222" stroke-width="3"/>
<line x1="1923.8" y1="2146.5" x2="1939.8" y2="2146.5" stroke="#222" stroke-width="3"/>
<rect x="2058.4" y="2185.9" width="62.0" height="107.1" fill="#fff" stroke="#4a4a4a" stroke-width="2.5"/>
<rect x="2188.9" y="2131.8" width="60.0" height="161.2" fill="#0c0c0c" stroke="#333" stroke-width="2.5"/>
<line x1="2089.4" y1="2185.7" x2="2089.4" y2="2132.1" stroke="#222" stroke-width="3"/>
<line x1="2081.4" y1="2132.1" x2="2097.4" y2="2132.1" stroke="#222" stroke-width="3"/>
<line x1="2218.9" y1="2131.6" x2="2218.9" y2="2072.7" stroke="#222" stroke-width="3"/>
<line x1="2210.9" y1="2072.7" x2="2226.9" y2="2072.7" stroke="#222" stroke-width="3"/>
<text transform="translate(1810.0,2096.5) scale(1.3,1)" font-family="'DejaVu Sans', 'Liberation Sans', sans-serif" font-size="36.0" font-weight="bold" fill="#000" text-anchor="middle">*</text>
<text transform="translate(1937.5,2096.5) scale(1.3,1)" font-family="'DejaVu Sans', 'Liberation Sans', sans-serif" font-size="36.0" font-weight="bold" fill="#000" text-anchor="middle">*</text>
<text transform="translate(2090.3,2096.5) scale(1.3,1)" font-family="'DejaVu Sans', 'Liberation Sans', sans-serif" font-size="36.0" font-weight="bold" fill="#000" text-anchor="middle">*</text>
<text transform="translate(2217.8,2053.2) scale(1.3,1)" font-family="'DejaVu Sans', 'Liberation Sans', sans-serif" font-size="36.0" font-weight="bold" fill="#000" text-anchor="middle">*</text>
<text x="1400.0" y="2305.0" font-size="24.7" fill="#444" text-anchor="middle" textLength="14.5" lengthAdjust="spacingAndGlyphs">0</text>
<text x="1385.5" y="2238.1" font-size="24.7" fill="#444" text-anchor="middle" textLength="43.5" lengthAdjust="spacingAndGlyphs">500</text>
<text x="1378.5" y="2171.2" font-size="24.7" fill="#444" text-anchor="middle" textLength="57.5" lengthAdjust="spacingAndGlyphs">1000</text>
<text x="1378.5" y="2104.2" font-size="24.7" fill="#444" text-anchor="middle" textLength="57.5" lengthAdjust="spacingAndGlyphs">1500</text>
<text x="1378.5" y="2037.3" font-size="24.7" fill="#444" text-anchor="middle" textLength="57.5" lengthAdjust="spacingAndGlyphs">2000</text>
<text x="1378.5" y="1970.4" font-size="24.7" fill="#444" text-anchor="middle" textLength="57.5" lengthAdjust="spacingAndGlyphs">2500</text>
<text x="1378.5" y="1903.5" font-size="24.7" fill="#444" text-anchor="middle" textLength="57.5" lengthAdjust="spacingAndGlyphs">3000</text>
<text x="1378.5" y="1836.5" font-size="24.7" fill="#444" text-anchor="middle" textLength="57.5" lengthAdjust="spacingAndGlyphs">3500</text>
<text x="1378.5" y="1769.6" font-size="24.7" fill="#444" text-anchor="middle" textLength="57.5" lengthAdjust="spacingAndGlyphs">4000</text>
<text x="1579.0" y="2347.0" font-size="24.7" fill="#444" text-anchor="middle" textLength="83.5" lengthAdjust="spacingAndGlyphs">Control</text>
<text x="1867.0" y="2347.0" font-size="24.7" fill="#444" text-anchor="middle" textLength="67.5" lengthAdjust="spacingAndGlyphs">LL-37</text>
<text x="2154.0" y="2347.0" font-size="24.7" fill="#444" text-anchor="middle" textLength="93.5" lengthAdjust="spacingAndGlyphs">D-LL-37</text>
<text x="1907.5" y="2404.0" font-size="24.7" font-weight="bold" fill="#222" text-anchor="middle" textLength="370.5" lengthAdjust="spacingAndGlyphs">Peptide concentration (ug/ml)</text>
<text transform="translate(1332.8,2033.0) rotate(-90)" x="0" y="0" font-size="24.0" font-weight="bold" fill="#222" text-anchor="middle" textLength="253.0" lengthAdjust="spacingAndGlyphs">Absorbance (570nm)</text>
<text x="0.0" y="36.5" font-size="45.1" font-weight="bold" fill="#000">A</text>
<text x="1208.0" y="35.5" font-size="42.2" font-weight="bold" fill="#000">B</text>
<text x="1.0" y="859.5" font-size="43.6" font-weight="bold" fill="#000">C</text>
</svg>
</body></html>
